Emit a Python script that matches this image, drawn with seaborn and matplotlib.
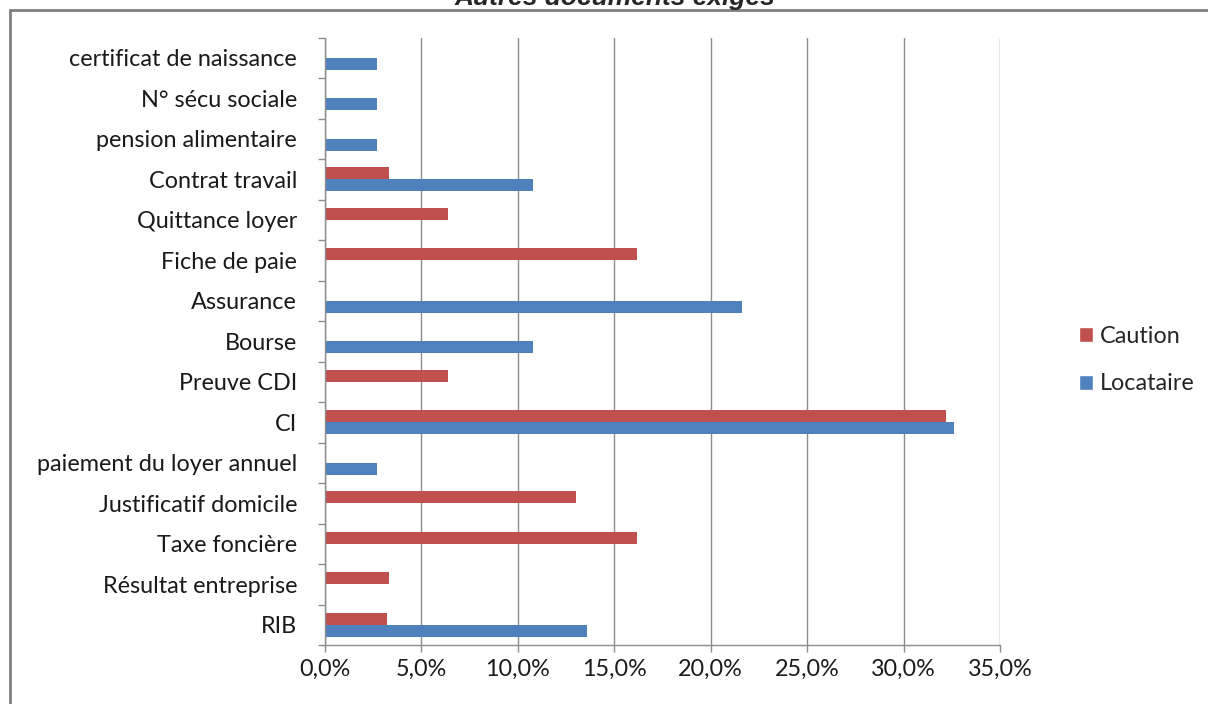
import matplotlib
matplotlib.use("Agg")
import matplotlib.pyplot as plt
from matplotlib.ticker import FuncFormatter, MultipleLocator, FixedLocator
from matplotlib.patches import Patch
import seaborn as sns
import pandas as pd

categories = [
    "certificat de naissance", "N° sécu sociale", "pension alimentaire",
    "Contrat travail", "Quittance loyer", "Fiche de paie", "Assurance",
    "Bourse", "Preuve CDI", "CI", "paiement du loyer annuel",
    "Justificatif domicile", "Taxe foncière", "Résultat entreprise", "RIB",
]
caution = [0, 0, 0, 3.3, 6.4, 16.2, 0, 0, 6.4, 32.2, 0, 13.0, 16.2, 3.3, 3.2]
locataire = [2.7, 2.7, 2.7, 10.8, 0, 0, 21.6, 10.8, 0, 32.6, 2.7, 0, 0, 0, 13.6]
series = ["Caution", "Locataire"]
colors = {"Caution": "#C0504D", "Locataire": "#4F81BD"}
title = "Autres documents exigés"

df = pd.DataFrame({
    "document": categories * 2,
    "serie": ["Caution"] * len(categories) + ["Locataire"] * len(categories),
    "valeur": caution + locataire,
})

sns.set_theme(style="white")
plt.rcParams["font.family"] = ["Lato", "DejaVu Sans"]
FS = 16.8

fig = plt.figure(figsize=(12.08, 7.04), dpi=100)
ax = fig.add_axes([325 / 1208, 1 - 645 / 704, 675 / 1208, (645 - 37.5) / 704])

sns.barplot(data=df, y="document", x="valeur", hue="serie", hue_order=series,
            order=categories, palette=colors, width=0.6, saturation=1,
            linewidth=0, legend=False, ax=ax)

ax.set_xlim(0, 35)
ax.set_ylim(len(categories) - 0.5, -0.5)
ax.xaxis.set_major_locator(MultipleLocator(5))
ax.xaxis.set_major_formatter(FuncFormatter(lambda v, p: f"{v:.1f}%".replace(".", ",")))
ax.grid(axis="x", color="#8C8C8C", linewidth=1)
ax.set_axisbelow(True)
ax.set_xlabel("")
ax.set_ylabel("")

for side in ("top", "right"):
    ax.spines[side].set_visible(False)
for side in ("left", "bottom"):
    ax.spines[side].set_color("#8C8C8C")
    ax.spines[side].set_linewidth(1)

ax.yaxis.set_minor_locator(FixedLocator([i - 0.5 for i in range(len(categories) + 1)]))
ax.tick_params(axis="y", which="major", length=0, pad=20, labelsize=FS, labelcolor="#1a1a1a")
ax.tick_params(axis="y", which="minor", left=True, length=5, width=1, color="#8C8C8C")
ax.tick_params(axis="x", which="major", bottom=True, length=5, width=1, color="#8C8C8C",
               pad=5, labelsize=FS, labelcolor="#1a1a1a")

handles = [Patch(facecolor=colors[s], label=s) for s in series]
fig.legend(handles=handles, loc="center left", bbox_to_anchor=(1058 / 1208, 1 - 360 / 704),
           frameon=False, fontsize=FS, handlelength=0.6, handleheight=0.6,
           handletextpad=0.3, labelspacing=1.15)

fig.text(615 / 1208, 1 - 5 / 704, title, ha="center", va="baseline",
         fontsize=19, fontweight="bold", fontstyle="italic",
         family=["Liberation Sans", "DejaVu Sans"])

# outer chart frame
fig.add_artist(plt.Line2D([10 / 1208, 10 / 1208], [0, 1 - 10 / 704],
                          transform=fig.transFigure, color="#7F7F7F", linewidth=2))
fig.add_artist(plt.Line2D([10 / 1208, 1], [1 - 10 / 704, 1 - 10 / 704],
                          transform=fig.transFigure, color="#7F7F7F", linewidth=2))

fig.savefig("out.png", dpi=100, facecolor="white")
